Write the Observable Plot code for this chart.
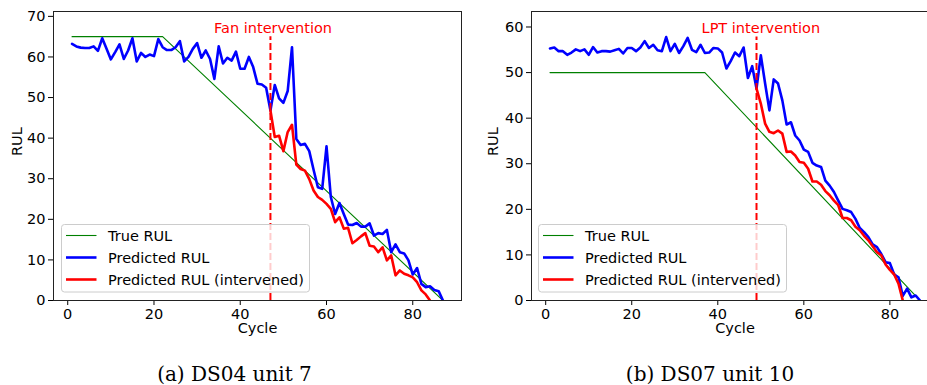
<!DOCTYPE html>
<html><head><meta charset="utf-8">
<script src="https://cdn.jsdelivr.net/npm/d3@7"></script>
<script src="https://cdn.jsdelivr.net/npm/@observablehq/plot@0.6"></script>
<style>
body{margin:0;background:#fff;}
#wrap{position:relative;width:927px;height:385px;overflow:hidden;font-family:"DejaVu Sans";background:#fff;}
.panel{position:absolute;top:0;}
#overlay{position:absolute;left:0;top:0;pointer-events:none;}
</style></head><body><div id="wrap"></div>
<script>
// ---------- data ----------
const xTicks = [0, 20, 40, 60, 80];
const xDomain = [-3.3, 91.3];
const seriesNames = ["True RUL", "Predicted RUL", "Predicted RUL (intervened)"];

// (a) DS04 unit 7
const blueA = [63.2,62.6,62.3,62.2,62.2,62.6,61.5,64.6,62.0,59.4,61.2,63.1,59.5,61.6,64.6,58.9,61.0,60.0,60.6,60.2,
  64.4,62.4,61.7,61.7,62.4,63.9,58.9,60.0,62.0,63.4,59.8,61.6,59.5,54.6,62.6,58.4,59.8,59.1,61.3,57.1,
  57.1,60.0,57.5,53.4,53.2,52.4,46.8,53.1,49.8,48.7,51.6,62.4,39.8,38.3,38.6,36.8,32.2,27.9,27.5,38.0,
  25.5,21.3,24.0,21.3,18.7,18.6,19.1,18.2,18.2,19.0,16.0,16.6,16.4,17.4,11.9,13.8,11.9,11.6,9.9,6.4,
  8.0,4.1,3.3,3.5,2.6,2.3,0];
const redStartA = 47;
const redA = [46.8,40.3,40.6,36.8,41.5,43.3,33.5,32.4,32.0,29.9,27.1,25.5,24.8,23.8,22.6,19.3,20.5,17.7,17.9,14.1,
  14.9,15.8,16.6,13.5,13.3,11.9,13.1,9.9,11.1,6.2,7.4,6.6,6.2,5.7,4.5,2.5,1.5,0];
const trueCyclesA = [1, 22, 87];
const trueRulA = [65, 65, 0];
const intervA = 47, intervTopA = 65;
const annA = {text: "Fan intervention", x: 47.6, y: 67};
const yTicksA = [0,10,20,30,40,50,60,70];
const yMaxA = 71.2;

// (b) DS07 unit 10
const blueB = [55.3,55.5,54.7,54.7,53.9,54.4,55.1,54.7,55.1,53.9,55.6,54.4,54.7,54.7,54.6,54.9,55.2,54.2,55.4,55.4,
  54.7,55.5,56.9,55.4,56.1,54.9,54.7,57.8,54.7,56.3,54.3,55.8,57.6,55.0,54.5,56.1,54.3,54.4,55.4,55.3,
  54.4,50.9,52.5,54.4,53.6,55.5,48.8,51.4,46.5,53.8,47.6,41.7,48.5,47.6,43.9,38.6,39.1,36.2,35.1,33.1,
  32.6,30.2,29.6,29.3,26.3,25.2,23.8,21.9,20.1,19.8,19.4,17.9,15.9,15.0,13.9,12.3,11.7,10.2,8.4,8.2,
  5.7,5.1,1.0,2.6,0.7,1.1,0];
const redStartB = 49;
const redB = [46.5,43.2,38.8,37.0,36.7,37.3,36.6,32.6,32.7,31.8,30.4,30.2,28.9,26.1,26.1,25.4,24.0,23.1,21.9,20.9,
  18.1,18.1,17.6,16.2,15.4,14.2,13.2,11.9,10.6,9.9,7.9,6.7,5.7,3.7,0];
const trueCyclesB = [1, 37, 87];
const trueRulB = [50, 50, 0];
const intervB = 49, intervTopB = 57.8;
const annB = {text: "LPT intervention", x: 50.0, y: 59.7};
const yTicksB = [0,10,20,30,40,50,60];
const yMaxB = 63.4;

const captions = ["(a) DS04 unit 7", "(b) DS07 unit 10"];

// ---------- drawing ----------
const FS = 14.5;
function panel(o) {
  const blueData = o.blue.map((v, i) => ({c: i + 1, v}));
  const redData = o.red.map((v, i) => ({c: o.redStart + i, v}));
  const trueData = o.trueC.map((c, i) => ({c, v: o.trueV[i]}));
  return Plot.plot({
    width: o.width, height: 345,
    marginTop: 11, marginBottom: 45, marginLeft: o.marginLeft, marginRight: 2,
    style: {fontFamily: "DejaVu Sans", fontSize: FS + "px", color: "#000", background: "transparent", overflow: "visible"},
    x: {domain: xDomain, ticks: xTicks, tickSize: 5, tickPadding: 3, label: null, tickFormat: d => String(d)},
    y: {domain: [0, o.yMax], ticks: o.yTicks, tickSize: 5, tickPadding: 3, label: null, tickFormat: d => String(d)},
    marks: [
      Plot.line(trueData, {x: "c", y: "v", stroke: "green", strokeWidth: 1.1, clip: true}),
      Plot.line(blueData, {x: "c", y: "v", stroke: "blue", strokeWidth: 2.6, clip: true}),
      Plot.line(redData, {x: "c", y: "v", stroke: "red", strokeWidth: 2.6, clip: true}),
      Plot.ruleX([o.interv], {x: d => d, y1: 0, y2: o.intervTop, stroke: "red", strokeWidth: 2, strokeDasharray: "7,3"}),
      Plot.text([o.ann], {x: "x", y: "y", text: "text", fill: "red", fontSize: FS}),
      Plot.frame({stroke: "#222", strokeWidth: 1}),
      Plot.text(["RUL"], {frameAnchor: "left", dx: o.ylabDx, rotate: -90, text: d => d, fontSize: FS, fill: "#000"}),
      Plot.text(["Cycle"], {frameAnchor: "bottom", dy: 32, text: d => d, fontSize: FS, fill: "#000"})
    ]
  });
}

const wrap = document.getElementById("wrap");
const pa = panel({blue: blueA, red: redA, redStart: redStartA, trueC: trueCyclesA, trueV: trueRulA,
  interv: intervA, intervTop: intervTopA, ann: annA, yTicks: yTicksA, yMax: yMaxA,
  width: 463, marginLeft: 53, ylabDx: -36});
pa.classList.add("panel"); pa.style.left = "0px";
wrap.appendChild(pa);
const pb = panel({blue: blueB, red: redB, redStart: redStartB, trueC: trueCyclesB, trueV: trueRulB,
  interv: intervB, intervTop: intervTopB, ann: annB, yTicks: yTicksB, yMax: yMaxB,
  width: 477, marginLeft: 68, ylabDx: -38.5});
pb.classList.add("panel"); pb.style.left = "463px";
wrap.appendChild(pb);

// overlay: legends + captions
const svg = d3.select(wrap).append("svg").attr("id", "overlay").attr("width", 927).attr("height", 385);
const legendStyles = [
  {stroke: "green", width: 1.1},
  {stroke: "blue", width: 2.6},
  {stroke: "red", width: 2.6}
];
function legend(left, top) {
  const g = svg.append("g").attr("transform", `translate(${left},${top})`);
  g.append("rect").attr("x", 0.5).attr("y", 0.5).attr("width", 248).attr("height", 67.5).attr("rx", 3)
    .attr("fill", "rgba(255,255,255,0.8)").attr("stroke", "#cccccc").attr("stroke-width", 1);
  seriesNames.forEach((name, i) => {
    const y = 11.5 + i * 22;
    g.append("line").attr("x1", 5).attr("x2", 35.5).attr("y1", y).attr("y2", y)
      .attr("stroke", legendStyles[i].stroke).attr("stroke-width", legendStyles[i].width);
    g.append("text").attr("x", 47).attr("y", y).attr("dy", "0.35em")
      .attr("font-family", "DejaVu Sans").attr("font-size", FS).attr("fill", "#000").text(name);
  });
}
legend(61, 224);
legend(538, 224);

[[234.5, captions[0]], [710, captions[1]]].forEach(([cx, t]) => {
  svg.append("text").attr("x", cx).attr("y", 381).attr("text-anchor", "middle")
    .attr("font-family", "DejaVu Serif").attr("font-size", 20).attr("fill", "#000").text(t);
});
</script>
</body></html>
